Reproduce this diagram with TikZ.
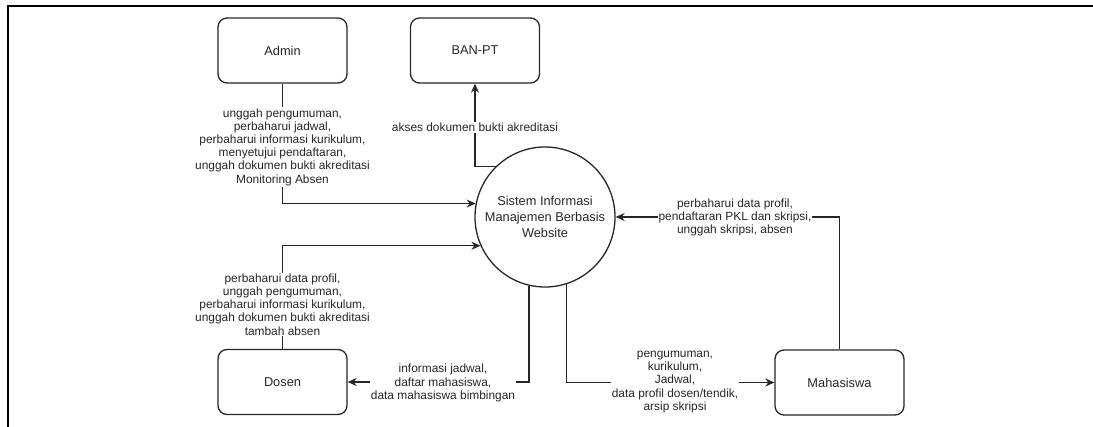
\documentclass[tikz,border=0pt]{standalone}
\usepackage{fontspec}
\setmainfont{Liberation Sans}
\usetikzlibrary{arrows.meta}
\tikzset{
  entity/.style={draw=black!85, line width=1.3pt, rounded corners=9pt, minimum width=129pt, minimum height=65pt, inner sep=0pt, font=\fontsize{12.8}{15}\selectfont, text=black!85},
  proc/.style={draw=black!85, line width=1.3pt, circle, minimum size=140pt, inner sep=0pt, align=center, font=\fontsize{12.8}{16}\selectfont, text=black!85},
  flow/.style={draw=black!85, line width=1.3pt, -{Stealth[length=9pt,width=8pt]}},
  lbl/.style={fill=white, inner sep=1pt, align=center, font=\fontsize{11.9}{13.2}\selectfont, text=black!85},
  frameline/.style={line width=2pt, black}
}
\begin{document}
\begin{tikzpicture}[x=1pt,y=-1pt]
\useasboundingbox (0,0) rectangle (1093,427);
\coordinate (ftl) at (8,6);
\coordinate (ftr) at (1093,6);
\coordinate (fbl) at (8,427);
\draw[frameline] (ftr) -- (ftl) -- (fbl);

\node[entity] (admin) at (282.5,50.5) {Admin};
\node[entity] (banpt) at (475,50.5) {BAN-PT};
\node[entity] (dosen) at (282.5,382) {Dosen};
\node[entity] (mhs) at (839.5,382.5) {Mahasiswa};
\node[proc] (sys) at (545,217) {Sistem Informasi\\Manajemen Berbasis\\Website};

\draw[flow] (admin.south) |- (sys.169.3);
\draw[flow] (sys.134.4) -| (banpt.south);
\draw[flow] (dosen.north) |- (sys.204.5);
\draw[flow] (sys.257.6) |- (dosen.east);
\draw[flow] (sys.288.3) |- (mhs.west);
\draw[flow] (mhs.north) |- (sys.east);

\node[lbl] (l1) at (282.5,147) {unggah pengumuman,\\perbaharui jadwal,\\perbaharui informasi kurikulum,\\menyetujui pendaftaran,\\unggah dokumen bukti akreditasi\\Monitoring Absen};
\node[lbl] (l2) at (475,127.5) {akses dokumen bukti akreditasi};
\node[lbl] (l3) at (282.5,304.5) {perbaharui data profil,\\unggah pengumuman,\\perbaharui informasi kurikulum,\\unggah dokumen bukti akreditasi\\tambah absen};
\node[lbl] (l4) at (443,383) {informasi jadwal,\\daftar mahasiswa,\\data mahasiswa bimbingan};
\node[lbl] (l5) at (675,382) {pengumuman,\\kurikulum,\\Jadwal,\\data profil dosen/tendik,\\arsip skripsi};
\node[lbl] (l6) at (735,217.5) {perbaharui data profil,\\pendaftaran PKL dan skripsi,\\unggah skripsi, absen};
\end{tikzpicture}
\end{document}
